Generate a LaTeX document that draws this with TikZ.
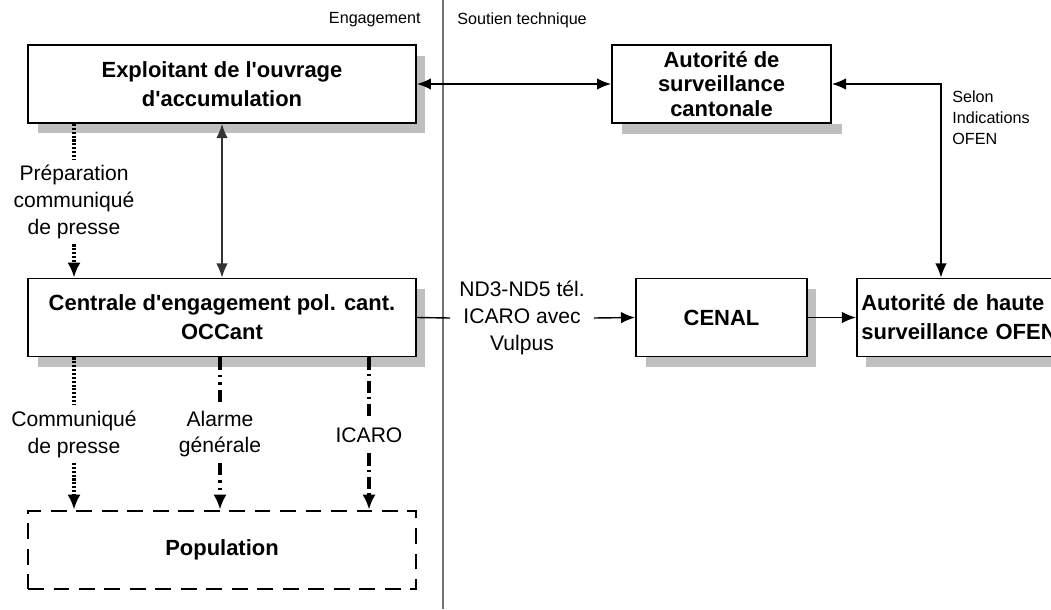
\documentclass[tikz,border=0pt]{standalone}
\usepackage{fontspec}
\setmainfont{Liberation Sans}
\usetikzlibrary{arrows.meta,shadows}

\begin{document}
\begin{tikzpicture}[x=0.02cm, y=-0.02cm]
    % Define the styles for the blocks
    \tikzset{block/.style={rectangle, draw, line width=1.1pt, fill=white, align=center, inner sep=0pt, minimum height=1.56cm, font=\fontsize{12.5}{16.5}\selectfont\bfseries}}
    \tikzset{shadowed/.style={block, drop shadow={shadow xshift=0.19cm, shadow yshift=-0.21cm, fill=black!25, opacity=1}}}
    \tikzset{popbox/.style={block, dash pattern=on 9pt off 5.5pt, line width=1.6pt}}
    \tikzset{tag/.style={align=center, inner sep=3pt, font=\fontsize{12}{15.3}\selectfont}}
    \tikzset{small/.style={inner sep=0pt, font=\fontsize{9.2}{12}\selectfont}}

    % Define the styles for the lines
    \tikzset{line/.style={draw, line width=0.8pt, -{Latex[length=8pt,width=6.5pt]}}}
    \tikzset{both/.style={line, {Latex[length=8pt,width=6.5pt]}-{Latex[length=8pt,width=6.5pt]}}}
    \tikzset{dots/.style={draw, line width=1.8pt, dash pattern=on 1.2pt off 1pt}}
    \tikzset{dashdot/.style={draw, line width=1.8pt, dash pattern=on 7pt off 2.5pt on 1.2pt off 2.5pt}}
    \tikzset{dashdotdot/.style={draw, line width=1.8pt, dash pattern=on 7pt off 3pt on 1.2pt off 3pt on 1.2pt off 3pt}}
    \tikzset{tip/.style={-{Latex[length=8.5pt,width=7.5pt]}}}

    \path[use as bounding box, clip] (0,0) rectangle (1051,609);

    % Separator between the two columns
    \draw[line width=0.9pt, black!55] (443,0) -- (443,609);
    \node[small, anchor=east] (eng) at (421,20) {Engagement};
    \node[small, anchor=west] (sout) at (457,20) {Soutien technique};

    % Place the blocks
    \node[shadowed, minimum width=7.76cm] (expl) at (222,84) {Exploitant de l\textquotesingle ouvrage\\d\textquotesingle accumulation};
    \fill[black!25] (622,124) rectangle (842,134);
    \node[block, minimum width=4.38cm, font=\fontsize{12.5}{14.2}\selectfont\bfseries] (cant) at (721.5,84) {Autorité de\\surveillance\\cantonale};
    \node[shadowed, minimum width=7.76cm] (centr) at (222,317.5) {Centrale d\textquotesingle engagement pol. cant.\\OCCant};
    \node[shadowed, minimum width=3.42cm] (cenal) at (721.5,317.5) {CENAL};
    \node[shadowed, anchor=west, align=left, text width=4.3cm, inner xsep=2.5pt] (haute) at (856,317.5) {Autorité de haute\\surveillance OFEN};
    \node[popbox, minimum width=7.76cm] (pop) at (222,550) {Population};

    % Draw the labels
    \node[tag] (prep) at (74,202) {Préparation\\communiqué\\de presse};
    \node[tag] (comm) at (74,434) {Communiqué\\de presse};
    \node[tag] (alarm) at (220,434) {Alarme\\générale};
    \node[tag, inner ysep=6pt] (icaro) at (369,435) {ICARO};
    \node[tag, inner xsep=5pt] (nd) at (522,318) {ND3-ND5 tél.\\ICARO avec\\Vulpus};
    \node[small, anchor=west, align=left] (selon) at (952,118) {Selon\\Indications\\OFEN};

    % Draw the connections
    \draw[both] (expl.east) -- (cant.west);
    \draw[both] (cant.east) -| ([xshift=1.7cm]haute.north west);
    \draw[both, black!80] (expl) -- (centr);
    \draw[dots] (expl.south -| prep) -- (prep);
    \draw[dots, tip] (prep) -- (centr.north -| prep);
    \draw[line, -] (centr.east) -- (nd.west);
    \draw[line] (nd.east) -- (cenal.west);
    \draw[line] (cenal.east) -- (haute.west);

    \draw[dots] (centr.south -| comm) -- (comm);
    \draw[dots, tip] (comm) -- (pop.north -| comm);
    \draw[dashdotdot] (centr.south -| alarm) -- (alarm);
    \draw[dashdotdot, tip] (alarm) -- (pop.north -| alarm);
    \draw[dashdot] (centr.south -| icaro) -- (icaro);
    \draw[dashdot, tip] (icaro) -- (pop.north -| icaro);

\end{tikzpicture}
\end{document}
